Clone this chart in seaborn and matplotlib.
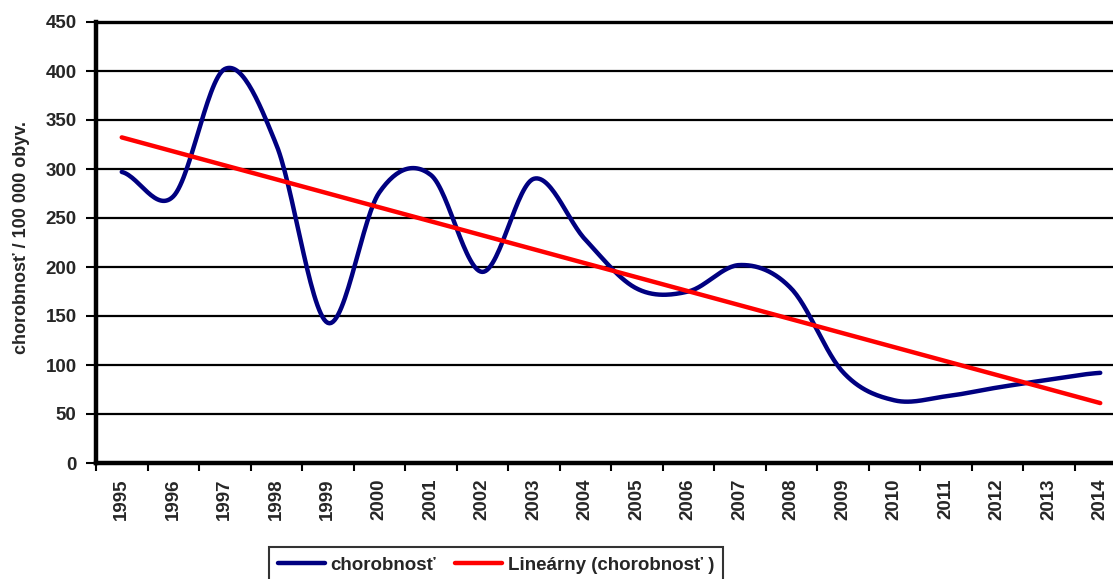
import matplotlib
matplotlib.use("Agg")
import matplotlib.pyplot as plt
import numpy as np
import seaborn as sns
from pandas import DataFrame

years = [str(y) for y in range(1995, 2015)]
chorobnost = [297, 272, 402, 325, 143, 276, 294, 195, 290, 228,
              178, 175, 202, 178, 93, 64, 68, 77, 85, 92]

series_label = "chorobnosť"
trend_label = "Lineárny (chorobnosť )"
ylabel = "chorobnosť / 100 000 obyv."
yticks = list(range(0, 451, 50))


def catmull_rom(values, steps=30):
    # Excel-like smoothed line through the points
    p = np.asarray(values, dtype=float)
    ext = np.concatenate([[p[0]], p, [p[-1]]])
    xs, ys = [], []
    for i in range(len(p) - 1):
        p0, p1, p2, p3 = ext[i], ext[i + 1], ext[i + 2], ext[i + 3]
        t = np.linspace(0, 1, steps, endpoint=False)
        y = 0.5 * ((2 * p1) + (-p0 + p2) * t
                   + (2 * p0 - 5 * p1 + 4 * p2 - p3) * t ** 2
                   + (-p0 + 3 * p1 - 3 * p2 + p3) * t ** 3)
        xs.extend(i + t)
        ys.extend(y)
    xs.append(len(p) - 1)
    ys.append(p[-1])
    return np.array(xs), np.array(ys)


sns.set_style("white")
plt.rcParams["font.family"] = ["Liberation Sans", "DejaVu Sans"]
plt.rcParams["font.weight"] = "bold"

fig = plt.figure(figsize=(11.13, 5.79), dpi=100)
ax = fig.add_axes([96 / 1113, 1 - 463 / 579, 1030 / 1113, 441 / 579])

idx = np.arange(len(years))
sx, sy = catmull_rom(chorobnost)
smooth = DataFrame({"x": sx, "y": sy})
slope, intercept = np.polyfit(idx, chorobnost, 1)
trend = DataFrame({"x": idx[[0, -1]], "y": intercept + slope * idx[[0, -1]]})

sns.lineplot(data=smooth, x="x", y="y", ax=ax, color="#000080", lw=3.2,
             label=series_label, legend=False)
sns.lineplot(data=trend, x="x", y="y", ax=ax, color="#FF0000", lw=3.2,
             label=trend_label, legend=False)

ax.set_xlim(-0.5, len(years) - 0.5)
ax.set_ylim(0, 450)
ax.set_yticks(yticks)
ax.set_yticklabels([str(v) for v in yticks], fontsize=13.5, fontweight="bold")
ax.yaxis.grid(True, color="black", lw=1.6)
ax.set_axisbelow(True)

ax.set_xticks(np.arange(-0.5, len(years), 1.0))
ax.set_xticklabels([])
ax.set_xticks(idx, minor=True)
ax.set_xticklabels(years, minor=True, rotation=90, fontsize=13.5, fontweight="bold")
ax.tick_params(axis="x", which="major", length=6, width=1.5, color="black", direction="out", bottom=True)
ax.tick_params(axis="x", which="minor", length=0, pad=11)
ax.tick_params(axis="y", length=7, width=1.5, color="black", direction="out", left=True, pad=7)

for side in ["left", "bottom"]:
    ax.spines[side].set_linewidth(3.2)
    ax.spines[side].set_color("black")
ax.spines["top"].set_linewidth(2.4)
ax.spines["top"].set_color("black")
ax.spines["right"].set_visible(False)

ax.set_xlabel("")
ax.set_ylabel(ylabel, fontsize=13, fontweight="bold")
ax.yaxis.set_label_coords(-66 / 1030, (463 - 238) / 441)

handles, labels = ax.get_legend_handles_labels()
leg = fig.legend(handles, labels, loc="upper center", bbox_to_anchor=(496 / 1113, 1 - 538 / 579),
                 ncol=2, frameon=True, fancybox=False, edgecolor="black",
                 prop={"size": 13.5, "weight": "bold"}, handlelength=2.5,
                 handletextpad=0.3, columnspacing=1.0, borderpad=0.5)
leg.get_frame().set_linewidth(1.5)

fig.savefig("out.png", dpi=100)
